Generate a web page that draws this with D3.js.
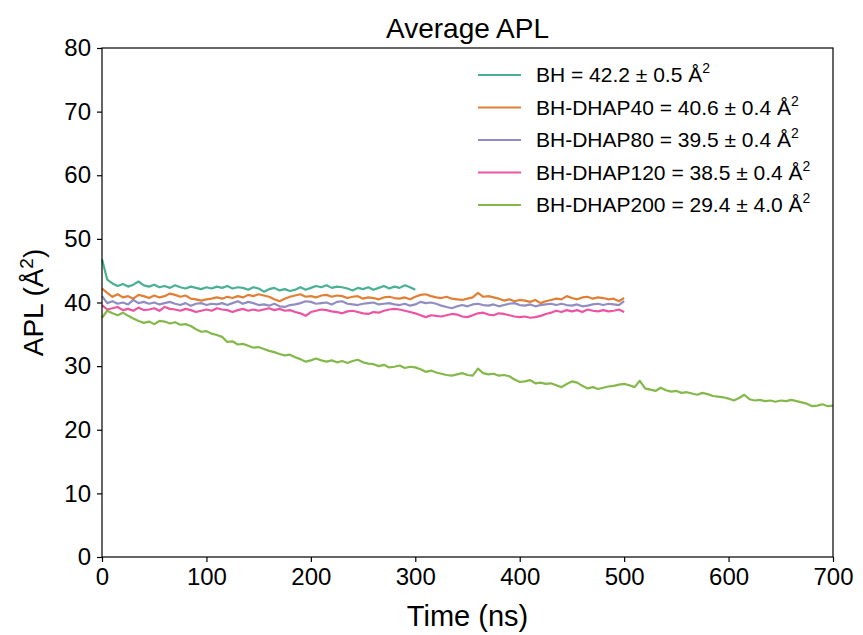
<!DOCTYPE html>
<meta charset="utf-8">
<style>
body { margin: 0; background: #fff; }
svg { font-family: "Liberation Sans", Arial, sans-serif; }
.axis text { font-size: 24px; fill: #000; }
.axis path, .axis line { stroke: #000; stroke-width: 1.2px; }
.series { fill: none; stroke-width: 2.2px; stroke-opacity: 0.8; stroke-linejoin: round; }
</style>
<svg width="863" height="635"></svg>
<script src="https://d3js.org/d3.v7.min.js"></script>
<script>
// values, one point every 5 ns
var step = 5;
var bh = [46.8,43.6,43.0,42.6,42.9,42.5,42.8,43.3,42.7,42.5,42.8,42.4,42.6,42.3,42.7,42.4,42.2,42.5,42.3,42.1,
  42.4,42.2,42.5,42.3,42.6,42.2,42.4,42.3,42.0,42.4,42.2,41.7,42.1,42.3,41.9,42.1,41.8,42.0,42.4,42.0,
  42.3,42.6,42.4,42.7,42.3,42.5,42.4,42.2,41.9,42.3,42.1,42.4,42.0,42.3,42.6,42.2,42.5,42.3,42.7,42.4,42.0];
var dhap40 = [42.2,41.5,40.9,41.3,40.8,41.0,40.6,41.2,41.0,40.7,41.1,40.8,41.0,41.4,41.2,40.9,41.1,40.6,40.5,40.3,
  40.5,40.6,40.8,40.6,40.9,40.7,41.0,40.8,41.2,41.0,41.3,41.1,40.9,40.5,40.2,40.6,40.9,41.1,41.3,40.9,
  41.0,40.8,41.1,41.2,40.9,41.1,41.0,40.7,40.9,41.0,40.6,40.8,40.7,40.5,40.8,40.9,40.7,40.6,40.8,40.5,
  40.9,41.2,41.3,41.0,40.8,40.7,40.9,40.6,40.5,40.4,40.6,40.8,41.5,40.9,41.0,40.8,40.6,40.3,40.5,40.2,
  40.4,40.3,40.1,40.4,39.9,40.2,40.4,40.6,40.5,41.0,40.7,40.5,40.8,40.9,40.6,40.8,40.7,40.5,40.6,40.2,40.7];
var dhap80 = [41.0,39.9,40.2,39.8,40.0,39.7,40.4,39.9,40.1,39.8,40.0,39.7,39.9,40.1,39.8,39.6,39.9,39.5,39.8,39.9,
  39.6,39.8,39.7,39.9,39.6,39.9,40.2,39.8,40.1,39.9,39.6,39.7,39.5,39.8,39.4,39.3,39.6,39.7,39.9,40.2,
  40.1,39.8,39.9,40.0,39.7,40.1,40.2,39.8,39.7,39.6,39.8,39.9,40.0,39.7,39.8,39.9,39.7,39.6,39.8,39.5,
  39.7,40.1,39.9,40.0,39.8,39.5,39.3,39.1,39.4,39.6,39.4,39.7,39.8,39.6,39.5,39.7,39.4,39.6,39.8,39.9,
  39.6,39.5,39.7,39.4,39.6,39.7,39.8,39.6,39.8,39.6,39.5,39.7,39.4,39.5,39.7,39.8,39.6,39.8,39.7,39.6,40.2];
var dhap120 = [39.6,38.9,39.1,39.3,38.8,39.0,38.7,39.2,38.8,38.9,39.1,38.7,39.3,39.0,38.9,38.7,39.0,38.8,38.5,38.7,
  38.9,38.7,39.1,38.9,38.8,38.5,38.8,39.0,38.7,38.9,38.7,38.9,39.1,38.8,39.0,38.7,38.8,38.5,38.3,37.9,
  38.5,38.7,38.9,38.8,38.6,38.5,38.3,38.6,38.7,38.5,38.3,38.2,38.5,38.4,38.7,38.9,39.0,38.9,38.7,38.5,
  38.3,38.0,37.7,38.0,37.9,37.8,38.0,38.2,38.1,37.8,37.7,38.0,38.3,38.4,38.1,38.0,38.3,38.2,38.0,37.8,
  37.7,37.8,37.6,37.7,37.9,38.2,38.4,38.7,38.5,38.8,38.6,38.8,38.5,38.9,38.7,38.6,38.8,38.6,38.7,38.9,38.5];
var dhap200 = [37.6,38.7,38.3,38.0,38.4,37.9,37.5,37.1,36.8,37.0,36.6,37.1,37.0,36.7,36.9,36.5,36.6,36.3,35.8,35.4,
  35.5,35.1,34.9,34.6,33.8,33.9,33.4,33.5,33.2,32.9,33.0,32.7,32.4,32.2,31.9,31.7,31.8,31.4,31.1,30.7,
  30.9,31.2,30.9,30.7,30.9,30.6,30.8,30.5,30.8,31.0,30.6,30.4,30.3,30.0,30.2,29.8,29.9,30.1,29.7,29.9,
  29.8,29.5,29.1,29.3,29.0,28.8,28.6,28.5,28.7,28.9,28.6,28.5,29.6,28.9,28.7,28.8,28.5,28.6,28.4,27.9,
  27.5,27.6,27.8,27.3,27.4,27.2,27.3,27.0,26.7,27.2,27.6,27.4,26.9,26.5,26.7,26.4,26.6,26.8,26.9,27.1,
  27.2,27.0,26.7,27.7,26.5,26.3,26.1,26.6,26.2,26.0,26.1,25.8,25.9,25.7,25.5,25.8,25.6,25.3,25.2,25.1,
  24.9,24.6,25.0,25.5,24.8,24.6,24.7,24.5,24.6,24.4,24.6,24.5,24.7,24.5,24.3,24.1,23.7,23.8,24.0,23.7,23.8];

var names = ["BH", "BH-DHAP40", "BH-DHAP80", "BH-DHAP120", "BH-DHAP200"];
var means = ["42.2", "40.6", "39.5", "38.5", "29.4"];
var sds = ["0.5", "0.4", "0.4", "0.4", "4.0"];
var colors = ["#1b9e77", "#d95f02", "#7570b3", "#e7298a", "#66a61e"];
var allSeries = [bh, dhap40, dhap80, dhap120, dhap200];
var xTicks = [0, 100, 200, 300, 400, 500, 600, 700];
var yTicks = [0, 10, 20, 30, 40, 50, 60, 70, 80];

var svg = d3.select("svg"),
    margin = {top: 48, right: 30, bottom: 78, left: 102},
    width = +svg.attr("width") - margin.left - margin.right,
    height = +svg.attr("height") - margin.top - margin.bottom;

var g = svg.append("g").attr("transform", "translate(" + margin.left + "," + margin.top + ")");
var x = d3.scaleLinear().domain([0, 700]).range([0, width]);
var y = d3.scaleLinear().domain([0, 80]).range([height, 0]);

var line = d3.line()
    .x(function(d, i) { return x(i * step); })
    .y(function(d) { return y(d); });

g.selectAll(".series").data(allSeries).enter().append("path")
    .attr("class", "series")
    .attr("stroke", function(d, i) { return colors[i]; })
    .attr("d", line);

// frame
g.append("rect").attr("width", width).attr("height", height)
    .attr("fill", "none").attr("stroke", "#000").attr("stroke-width", 1.2);

g.append("g").attr("class", "axis")
    .attr("transform", "translate(0," + height + ")")
    .call(d3.axisBottom(x).tickValues(xTicks).tickSize(5).tickPadding(6).tickSizeOuter(0))
    .call(function(a) { a.select(".domain").remove(); });
g.append("g").attr("class", "axis")
    .call(d3.axisLeft(y).tickValues(yTicks).tickSize(5).tickPadding(6).tickSizeOuter(0))
    .call(function(a) { a.select(".domain").remove(); });

// title and labels
svg.append("text").attr("x", margin.left + width / 2).attr("y", 38)
    .attr("text-anchor", "middle").attr("font-size", 28).text("Average APL");
svg.append("text").attr("x", margin.left + width / 2).attr("y", 626)
    .attr("text-anchor", "middle").attr("font-size", 29).text("Time (ns)");
var yl = svg.append("text").attr("transform", "translate(43," + (margin.top + height / 2) + ") rotate(-90)")
    .attr("text-anchor", "middle").attr("font-size", 28);
yl.append("tspan").text("APL (Å");
yl.append("tspan").attr("dy", -10).attr("font-size", 19).text("2");
yl.append("tspan").attr("dy", 10).text(")");

// legend
var leg = svg.append("g").attr("transform", "translate(478,75)");
var item = leg.selectAll("g").data(names).enter().append("g")
    .attr("transform", function(d, i) { return "translate(0," + i * 32.5 + ")"; });
item.append("line").attr("x1", 0).attr("x2", 43)
    .attr("stroke", function(d, i) { return colors[i]; })
    .attr("stroke-opacity", 0.8).attr("stroke-width", 2.2);
var lt = item.append("text").attr("x", 58).attr("y", 7).attr("font-size", 21);
lt.append("tspan").text(function(d, i) { return d + " = " + means[i] + " \u00b1 " + sds[i] + " Å"; });
lt.append("tspan").attr("dy", -9).attr("font-size", 14).text("2");
</script>
